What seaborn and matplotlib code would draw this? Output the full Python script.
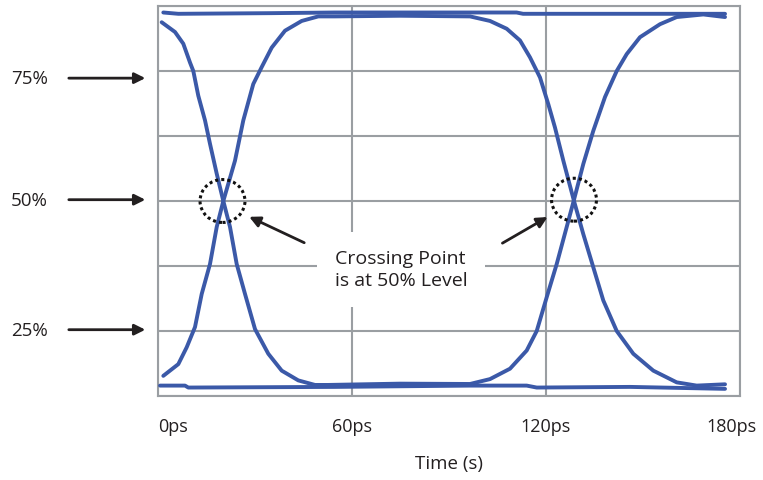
import matplotlib
matplotlib.use("Agg")
import matplotlib.pyplot as plt
from matplotlib.patches import Ellipse
from matplotlib.transforms import ScaledTranslation
import seaborn as sns
import pandas as pd

# eye diagram traces, time in ps, level in grid divisions
top_t = [1.64, 6.28, 35.17, 54.74, 96.5, 110.9, 112.9, 175.37]
top_v = [5.90, 5.88, 5.89, 5.90, 5.90, 5.90, 5.88, 5.88]

bottom_t = [0.62, 8.35, 9.37, 54.74, 96.5, 114.03, 117.13, 145.98, 175.37]
bottom_v = [0.16, 0.16, 0.13, 0.14, 0.16, 0.16, 0.13, 0.14, 0.11]

# high -> low -> high
fall_rise_t = [1.14, 5.26, 7.82, 9.90, 10.92, 12.46, 14.54, 16.08, 18.16, 20.20, 22.27,
               24.34, 26.91, 30.0, 34.11, 38.26, 43.39, 48.56, 52.58, 74.85, 96.5,
               102.68, 108.87, 114.03, 117.13, 120.22, 123.31, 126.40, 128.66, 131.54,
               134.63, 138.25, 141.87, 144.96, 149.07, 155.26, 160.42, 168.65, 175.37]
fall_rise_v = [5.75, 5.60, 5.42, 5.13, 5.00, 4.62, 4.24, 3.88, 3.42, 3.00, 2.60,
               2.03, 1.57, 1.03, 0.65, 0.39, 0.24, 0.17, 0.17, 0.19, 0.185,
               0.26, 0.42, 0.70, 1.00, 1.52, 2.03, 2.60, 3.02, 3.57,
               4.08, 4.60, 5.00, 5.26, 5.52, 5.72, 5.83, 5.87, 5.83]

# low -> high -> low
rise_fall_t = [1.64, 6.28, 8.88, 11.44, 13.52, 16.08, 18.16, 20.20, 23.81, 26.38, 29.47,
               32.07, 35.17, 39.28, 44.44, 49.58, 54.74, 74.85, 96.5,
               102.68, 107.85, 111.96, 115.05, 118.15, 120.71, 122.78, 125.36, 128.66,
               131.54, 134.63, 137.72, 141.87, 147.0, 153.19, 160.42, 166.6, 175.37]
rise_fall_v = [0.31, 0.49, 0.75, 1.06, 1.57, 2.03, 2.60, 3.00, 3.62, 4.24, 4.80,
               5.06, 5.36, 5.62, 5.77, 5.84, 5.84, 5.85, 5.84,
               5.77, 5.65, 5.47, 5.21, 4.90, 4.49, 4.13, 3.62, 3.00,
               2.49, 1.98, 1.47, 1.00, 0.65, 0.39, 0.21, 0.16, 0.18]

x_ticks = [0, 60, 120, 180]
x_tick_labels = ["0ps", "60ps", "120ps", "180ps"]
level_labels = ["75%", "50%", "25%"]
level_pos = [4.89, 3.02, 1.02]
crossings = [(19.95, 3.0), (128.66, 3.02)]

frames = []
for name, t, v in [("top", top_t, top_v), ("bottom", bottom_t, bottom_v),
                   ("fall_rise", fall_rise_t, fall_rise_v), ("rise_fall", rise_fall_t, rise_fall_v)]:
    frames.append(pd.DataFrame({"time": t, "level": v, "trace": name}))
df = pd.concat(frames, ignore_index=True)

sns.set_style("white")
plt.rcParams["font.family"] = ["Open Sans", "DejaVu Sans"]
text_col = "#231F20"
grid_col = "#9A9EA2"
line_col = "#3B59A8"

fig = plt.figure(figsize=(7.63, 4.81), dpi=100)
ax = fig.add_axes([158 / 763, 84 / 481, 582 / 763, 390 / 481])

sns.lineplot(data=df, x="time", y="level", units="trace", estimator=None, sort=False,
             color=line_col, linewidth=2.8, ax=ax, zorder=3)

ax.set_xlim(0, 180)
ax.set_ylim(0, 6)
ax.set_xticks(x_ticks)
ax.set_xticklabels(x_tick_labels)
ax.set_yticks(range(0, 7))
ax.set_yticklabels([])
ax.tick_params(axis="y", length=0)
ax.tick_params(axis="x", length=4, width=1.5, color=grid_col, pad=11,
               labelsize=13, labelcolor=text_col)
labels = ax.get_xticklabels()
labels[0].set_horizontalalignment("left")
# nudge the last label inward so it stays on the canvas
labels[-1].set_transform(labels[-1].get_transform() + ScaledTranslation(-6 / 72, 0, fig.dpi_scale_trans))
ax.grid(True, color=grid_col, linewidth=1.5, zorder=0)
for s in ax.spines.values():
    s.set_color(grid_col)
    s.set_linewidth(1.5)
ax.set_xlabel("Time (s)", fontsize=13.5, color=text_col, labelpad=14)
ax.set_ylabel("")

# level labels with arrows pointing at the axis
for lab, y in zip(level_labels, level_pos):
    ax.annotate("", xy=(-0.017, y), xytext=(-0.158, y),
                xycoords=("axes fraction", "data"), textcoords=("axes fraction", "data"),
                arrowprops=dict(arrowstyle="-|>", color=text_col, lw=2, mutation_scale=16),
                annotation_clip=False)
    ax.text(-0.189, y, lab, transform=ax.get_yaxis_transform(), ha="right", va="center",
            fontsize=13.5, color=text_col)

# dotted circles at the crossing points
for cx, cy in crossings:
    ax.add_patch(Ellipse((cx, cy), width=13.9, height=0.66, fill=False, edgecolor="#111111",
                         linestyle=(0, (1, 1)), linewidth=2.2, zorder=4))

ax.text(54.7, 1.95, "Crossing Point\nis at 50% Level", ha="left", va="center",
        fontsize=14, color=text_col, linespacing=1.25, zorder=2,
        bbox=dict(boxstyle="square,pad=0.9", facecolor="white", edgecolor="none"))

ax.annotate("", xy=(27.43, 2.775), xytext=(46.0, 2.34),
            arrowprops=dict(arrowstyle="-|>", color=text_col, lw=2, mutation_scale=16))
ax.annotate("", xy=(121.24, 2.775), xytext=(105.78, 2.33),
            arrowprops=dict(arrowstyle="-|>", color=text_col, lw=2, mutation_scale=16))

fig.savefig("out.png", dpi=100)
